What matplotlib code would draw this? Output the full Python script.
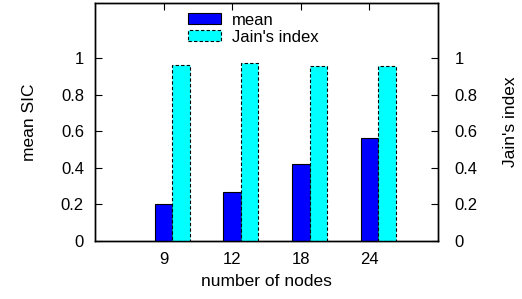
import numpy as np
import matplotlib
matplotlib.use('Agg')
import matplotlib.pyplot as plt

plt.rcParams['font.family'] = ['Liberation Sans', 'DejaVu Sans']

nodes = ['9', '12', '18', '24']
mean_sic = [0.203, 0.266, 0.418, 0.560]
jain_index = [0.962, 0.974, 0.954, 0.954]

fig = plt.figure(figsize=(5.22, 2.99), dpi=100)
ax = fig.add_axes([0.182, 0.194, 0.657, 0.796])

x = np.arange(1, len(nodes) + 1)
w = 0.255
ax.bar(x, mean_sic, w, color='#0000ff', edgecolor='black', linewidth=0.8,
       label='mean', zorder=3)
ax.bar(x + w, jain_index, w, color='#00ffff', edgecolor='black', linewidth=0.8,
       linestyle=(0, (3, 2)), label="Jain's index", zorder=3)

ax.set_xlim(0, 5)
ax.set_ylim(0, 1.3)
ax.set_xticks(x)
ax.set_xticklabels(nodes)
ax.set_yticks([0, 0.2, 0.4, 0.6, 0.8, 1])
ax.set_yticklabels(['0', '0.2', '0.4', '0.6', '0.8', '1'])
ax.tick_params(axis='x', direction='in', top=True, bottom=False, length=5,
               labelsize=12, pad=8)
ax.tick_params(axis='y', direction='in', left=True, right=True, length=5,
               labelsize=12, pad=8)
ax.set_xlabel('number of nodes', fontsize=12.5, labelpad=5)
ax.set_ylabel('mean SIC', fontsize=12.5, labelpad=17)

ax2 = ax.twinx()
ax2.set_ylim(0, 1.3)
ax2.set_yticks([0, 0.2, 0.4, 0.6, 0.8, 1])
ax2.set_yticklabels(['0', '0.2', '0.4', '0.6', '0.8', '1'])
ax2.tick_params(axis='y', direction='in', length=5, labelsize=12, pad=12)
ax2.set_ylabel("Jain's index", fontsize=12.5, labelpad=18)

for a in (ax, ax2):
    for s in a.spines.values():
        s.set_linewidth(1.0)

leg = ax.legend(loc='upper left', bbox_to_anchor=(0.27, 0.96), frameon=False,
                fontsize=12, handlelength=2.0, handleheight=0.6,
                labelspacing=0.12, handletextpad=0.65, borderaxespad=0.0,
                borderpad=0.0)

fig.savefig('out.png', dpi=100)
